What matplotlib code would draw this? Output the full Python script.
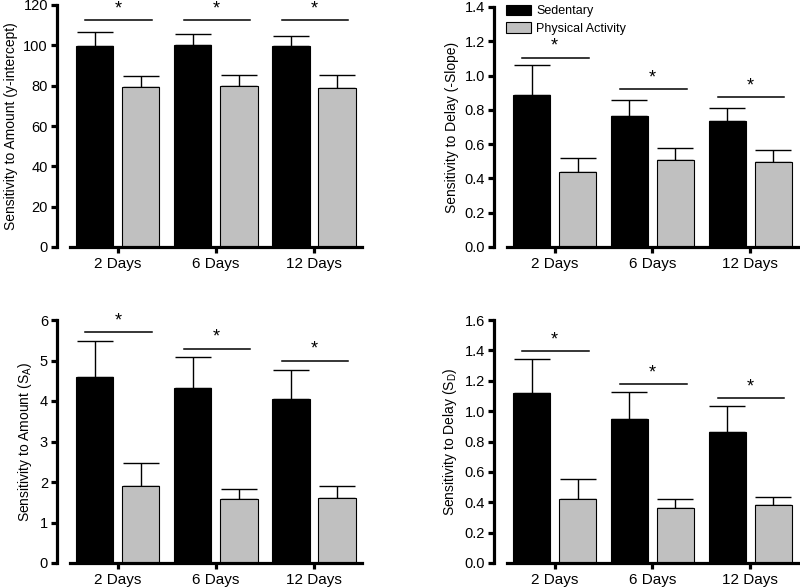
"""Four-panel bar chart: sensitivity to amount/delay, sedentary vs physical activity."""

import matplotlib
matplotlib.use("Agg")
import matplotlib.pyplot as plt
import numpy as np

plt.rcParams["font.family"] = ["Liberation Sans", "DejaVu Sans"]
plt.rcParams["mathtext.default"] = "regular"

days = ["2 Days", "6 Days", "12 Days"]
groups = ["Sedentary", "Physical Activity"]

# top-left: y-intercept
amount_sed = [99.5, 100.0, 99.5]
amount_sed_err = [7.0, 5.5, 5.0]
amount_pa = [79.5, 80.0, 79.0]
amount_pa_err = [5.5, 5.5, 6.5]
amount_sig = [112.6, 112.6, 112.6]

# top-right: -slope
delay_sed = [0.888, 0.764, 0.733]
delay_sed_err = [0.171, 0.091, 0.078]
delay_pa = [0.44, 0.506, 0.496]
delay_pa_err = [0.082, 0.072, 0.070]
delay_sig = [1.105, 0.919, 0.875]

# bottom-left: S_A
sa_sed = [4.59, 4.31, 4.04]
sa_sed_err = [0.90, 0.77, 0.73]
sa_pa = [1.91, 1.58, 1.60]
sa_pa_err = [0.55, 0.25, 0.30]
sa_sig = [5.70, 5.29, 5.00]

# bottom-right: S_D
sd_sed = [1.122, 0.951, 0.861]
sd_sed_err = [0.222, 0.173, 0.174]
sd_pa = [0.421, 0.364, 0.381]
sd_pa_err = [0.129, 0.057, 0.055]
sd_sig = [1.396, 1.177, 1.085]

panels = [
    dict(sed=amount_sed, sed_err=amount_sed_err, pa=amount_pa, pa_err=amount_pa_err,
         sig=amount_sig, ymax=120, step=20, fmt="{:.0f}",
         ylabel="Sensitivity to Amount (y-intercept)",
         rect=[57 / 800, 1 - 247 / 588, 305 / 800, 242 / 588]),
    dict(sed=delay_sed, sed_err=delay_sed_err, pa=delay_pa, pa_err=delay_pa_err,
         sig=delay_sig, ymax=1.4, step=0.2, fmt="{:.1f}",
         ylabel="Sensitivity to Delay (-Slope)",
         rect=[494 / 800, 1 - 247 / 588, 304 / 800, 240 / 588]),
    dict(sed=sa_sed, sed_err=sa_sed_err, pa=sa_pa, pa_err=sa_pa_err,
         sig=sa_sig, ymax=6, step=1, fmt="{:.0f}",
         ylabel="Sensitivity to Amount (S$_{A}$)",
         rect=[57 / 800, 1 - 563 / 588, 305 / 800, 243 / 588]),
    dict(sed=sd_sed, sed_err=sd_sed_err, pa=sd_pa, pa_err=sd_pa_err,
         sig=sd_sig, ymax=1.6, step=0.2, fmt="{:.1f}",
         ylabel="Sensitivity to Delay (S$_{D}$)",
         rect=[494 / 800, 1 - 563 / 588, 304 / 800, 243 / 588]),
]

fig = plt.figure(figsize=(8, 5.88), dpi=100)
x = np.arange(len(days))
w = 0.38
off = 0.235
grey = "#c0c0c0"

for k, p in enumerate(panels):
    ax = fig.add_axes(p["rect"])
    n = len(days)
    b1 = ax.bar(x - off, p["sed"], w, color="black", edgecolor="black", lw=0.8,
                label=groups[0], zorder=2)
    b2 = ax.bar(x + off, p["pa"], w, color=grey, edgecolor="black", lw=0.8,
                label=groups[1], zorder=2)
    ax.errorbar(x - off, p["sed"], yerr=[np.zeros(n), p["sed_err"]], fmt="none",
                ecolor="black", elinewidth=1.0, capsize=13, capthick=1.0, zorder=1)
    ax.errorbar(x + off, p["pa"], yerr=[np.zeros(n), p["pa_err"]], fmt="none",
                ecolor="black", elinewidth=1.0, capsize=13, capthick=1.0, zorder=1)
    for xi, s in zip(x, p["sig"]):
        ax.plot([xi - 0.33, xi + 0.35], [s, s], color="black", lw=1.1)
        ax.annotate("*", (xi, s), xytext=(0, 2), textcoords="offset points",
                    ha="center", va="bottom", fontsize=13)

    ax.set_xlim(-0.62, 2.49)
    ax.set_ylim(0, p["ymax"])
    ticks = np.arange(0, p["ymax"] + p["step"] / 2, p["step"])
    ax.set_yticks(ticks)
    ax.set_yticklabels([p["fmt"].format(t) for t in ticks])
    ax.set_xticks(x)
    ax.set_xticklabels(days)
    for s in ["top", "right"]:
        ax.spines[s].set_visible(False)
    ax.spines["left"].set_linewidth(2.3)
    ax.spines["bottom"].set_linewidth(2.3)
    ax.spines["bottom"].set_bounds(-0.49, 2.49)
    ax.tick_params(axis="both", width=2.3, length=4.5, direction="out")
    ax.tick_params(axis="y", labelsize=10.5, pad=2)
    ax.tick_params(axis="x", labelsize=11, pad=2.5)
    ax.set_ylabel(p["ylabel"], fontsize=10, labelpad=4)

    if k == 1:
        ax.legend(handles=[b1, b2], loc="upper left", bbox_to_anchor=(0.02, 1.035),
                  frameon=False, fontsize=9, handlelength=2.0, handleheight=0.9,
                  borderpad=0, labelspacing=0.4, handletextpad=0.4)

fig.savefig("out.png", dpi=100)
